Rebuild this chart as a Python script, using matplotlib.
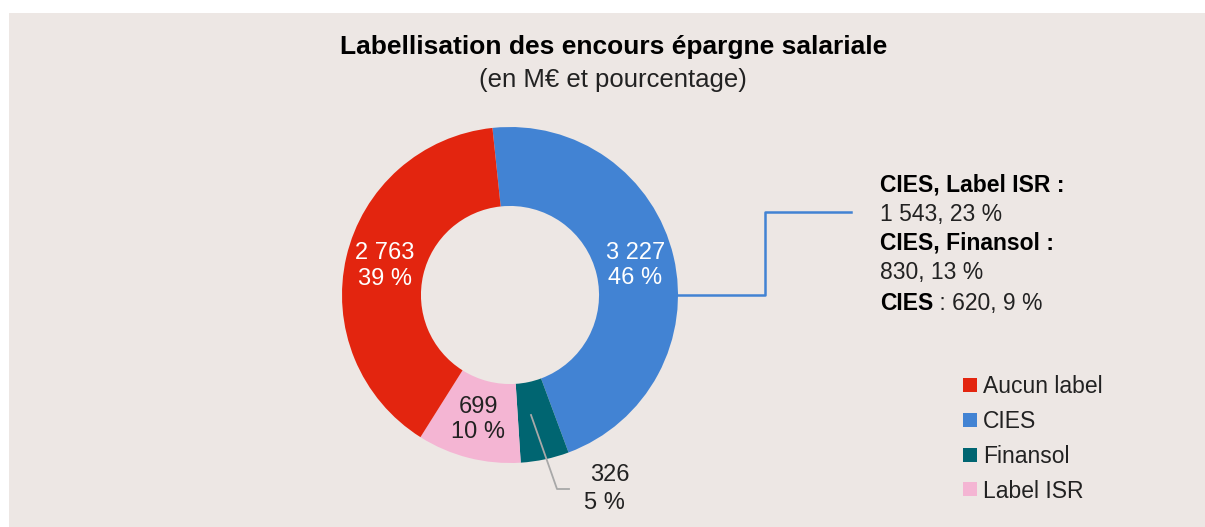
import matplotlib.pyplot as plt
from matplotlib.patches import Rectangle
import numpy as np

plt.rcParams['font.family'] = ['Liberation Sans', 'DejaVu Sans']

# data
categories = ['CIES', 'Finansol', 'Label ISR', 'Aucun label']
values = [3227, 326, 699, 2763]
pcts = ['46 %', '5 %', '10 %', '39 %']
value_labels = ['3 227', '326', '699', '2 763']
colors = ['#4283d3', '#006571', '#f4b5d3', '#e3250f']
label_colors = ['white', None, '#222222', 'white']
legend_order = ['Aucun label', 'CIES', 'Finansol', 'Label ISR']

cies_detail = [('CIES, Label ISR :', '1 543, 23 %'),
               ('CIES, Finansol :', '830, 13 %')]
cies_only = ('CIES', ' : 620, 9 %')

W, H = 1205, 527
fig = plt.figure(figsize=(W / 100, H / 100), dpi=100)
fig.patch.set_facecolor('white')
ax = fig.add_axes([0, 0, 1, 1])

def Y(y):
    return H - y

ax.add_patch(Rectangle((9, 0), W - 9, H - 13, facecolor='#ede7e4',
                       edgecolor='none', zorder=0))

cx, cy, R = 510, Y(295), 168
width = R * 0.47
start = 96
wedges, _ = ax.pie(values, colors=colors, startangle=start, counterclock=False,
                   radius=R, center=(cx, cy), frame=True,
                   wedgeprops=dict(width=width, edgecolor='none'))
ax.set_xlim(0, W)
ax.set_ylim(0, H)
ax.set_aspect('equal')
ax.axis('off')

total = sum(values)
ang = start
rmid = R - width / 2
for i, v in enumerate(values):
    span = 360 * v / total
    mid = np.deg2rad(ang - span / 2)
    ang -= span
    if label_colors[i] is None:
        continue
    x = cx + rmid * np.cos(mid)
    y = cy + rmid * np.sin(mid)
    ax.text(x, y, value_labels[i] + '\n' + pcts[i], ha='center', va='center',
            color=label_colors[i], fontsize=17, linespacing=1.2)

# small segment label with leader
ax.plot([531, 557, 569], [Y(415), Y(489), Y(489)], color='#a8a8a8', lw=1.3)
ax.text(610, Y(475), value_labels[1], ha='center', va='center', fontsize=17,
        color='#222222')
ax.text(604, Y(503), pcts[1], ha='center', va='center', fontsize=17,
        color='#222222')

# CIES detail leader
ax.plot([678, 765, 765, 851], [Y(295), Y(295), Y(212), Y(212)],
        color='#4283d3', lw=1.8)
ty = 185
fs = 16.5
for head, val in cies_detail:
    ax.text(880, Y(ty), head, ha='left', va='center', fontsize=fs,
            fontweight='bold', color='black')
    ax.text(880, Y(ty + 29), val, ha='left', va='center', fontsize=fs,
            color='#222222')
    ty += 58
t1 = ax.text(880, Y(ty) - 9, cies_only[0], ha='left', va='baseline',
             fontsize=fs, fontweight='bold', color='black')
fig.canvas.draw()
bb = t1.get_window_extent().transformed(ax.transData.inverted())
ax.text(bb.x1, Y(ty) - 9, cies_only[1], ha='left', va='baseline',
        fontsize=fs, color='#222222')

# title
ax.text(614, Y(47), 'Labellisation des encours épargne salariale',
        ha='center', va='center', fontsize=19, fontweight='bold')
ax.text(613, Y(80), '(en M€ et pourcentage)', ha='center', va='center',
        fontsize=18.5, color='#222222')

# legend
handles = [wedges[categories.index(n)] for n in legend_order]
leg = ax.legend(handles, legend_order, loc='upper left',
                bbox_to_anchor=(952 / W, 1 - 364 / H), frameon=False,
                fontsize=16.5, handlelength=0.57, handleheight=0.57,
                handletextpad=0.28, labelspacing=0.51, borderpad=0)
for t in leg.get_texts():
    t.set_color('#222222')

fig.savefig('out.png', dpi=100, facecolor=fig.get_facecolor())
